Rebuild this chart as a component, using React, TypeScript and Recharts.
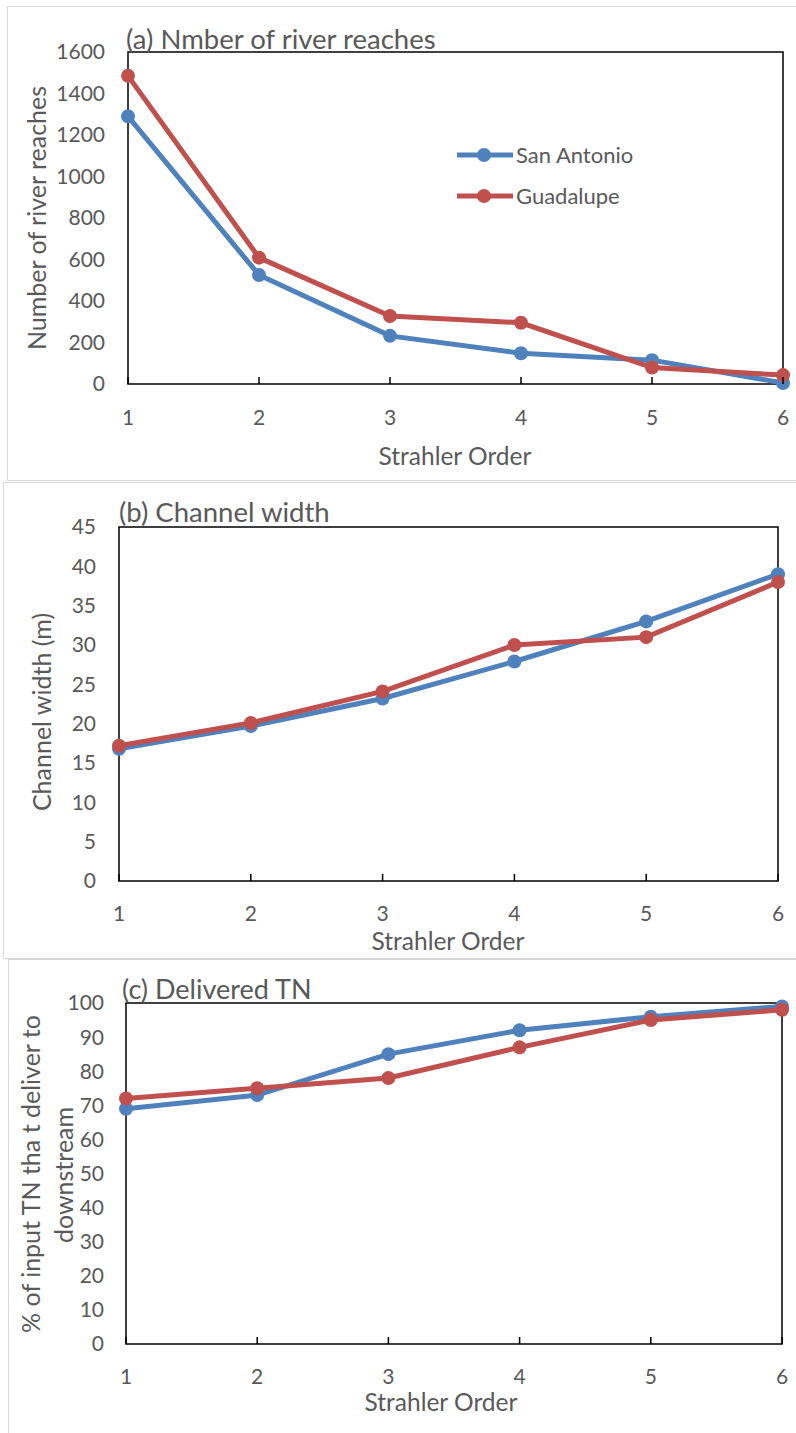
import React from 'react';
import {
  LineChart,
  Line,
  XAxis,
  YAxis,
  Legend,
  ReferenceArea,
} from 'recharts';

const ORDERS = [1, 2, 3, 4, 5, 6];
const SERIES_NAMES = ['San Antonio', 'Guadalupe'];

// (a) number of river reaches
const reachesSanAntonio = [1290, 525, 232, 148, 115, 5];
const reachesGuadalupe = [1485, 609, 328, 295, 79, 43];
const reachTicks = [0, 200, 400, 600, 800, 1000, 1200, 1400, 1600];

// (b) channel width (m)
const widthSanAntonio = [16.8, 19.7, 23.2, 27.9, 33, 39];
const widthGuadalupe = [17.2, 20.1, 24.1, 30, 31, 38];
const widthTicks = [0, 5, 10, 15, 20, 25, 30, 35, 40, 45];

// (c) delivered TN (%)
const deliveredSanAntonio = [69, 73, 85, 92, 96, 99];
const deliveredGuadalupe = [72, 75, 78, 87, 95, 98];
const deliveredTicks = [0, 10, 20, 30, 40, 50, 60, 70, 80, 90, 100];

const BLUE = '#4f81bd';
const RED = '#c0504d';
const TEXT = '#595959';
const FONT = 'Lato, "Open Sans", sans-serif';

const buildRows = (sa: number[], gu: number[]) =>
  ORDERS.map((order, i) => ({ order, sa: sa[i], gu: gu[i] }));

// inside tick mark + label, like Excel
const XTick = (props: any) => {
  const { x, y, payload, labelOffset } = props;
  return (
    <g>
      <line x1={x} x2={x} y1={y} y2={y - 7} stroke="#000" strokeWidth={1.5} />
      <text
        x={x}
        y={y + labelOffset}
        textAnchor="middle"
        dominantBaseline="central"
        fontSize={21}
        fill={TEXT}
        fontFamily={FONT}
      >
        {payload.value}
      </text>
    </g>
  );
};

const renderLegend = (props: any) => {
  const items = [...(props.payload || [])].sort(
    (a: any, b: any) => SERIES_NAMES.indexOf(a.value) - SERIES_NAMES.indexOf(b.value)
  );
  return (
    <div style={{ fontFamily: FONT, fontSize: 22, color: TEXT }}>
      {items.map((entry: any) => (
        <div key={entry.value} style={{ display: 'flex', alignItems: 'center', height: 41 }}>
          <svg width={56} height={20} style={{ display: 'block' }}>
            <line x1={0} x2={56} y1={10} y2={10} stroke={entry.color} strokeWidth={5} />
            <circle cx={27} cy={10} r={7} fill={entry.color} />
          </svg>
          <span style={{ marginLeft: 3 }}>{entry.value}</span>
        </div>
      ))}
    </div>
  );
};

interface PanelProps {
  top: number;
  height: number;
  rows: { order: number; sa: number; gu: number }[];
  yTicks: number[];
  margin: { top: number; right: number; bottom: number; left: number };
  labelGap: number;
  yTickMargin: number;
  showLegend?: boolean;
}

const Panel = ({ top, height, rows, yTicks, margin, labelGap, yTickMargin, showLegend }: PanelProps) => {
  const yMax = yTicks[yTicks.length - 1];
  return (
    <div style={{ position: 'absolute', left: 0, top, width: 796, height }}>
      <LineChart width={796} height={height} data={rows} margin={margin}>
        <ReferenceArea
          x1={1}
          x2={6}
          y1={0}
          y2={yMax}
          fill="none"
          stroke="#000"
          strokeWidth={1.5}
          ifOverflow="visible"
        />
        <XAxis
          dataKey="order"
          type="number"
          domain={[1, 6]}
          ticks={ORDERS}
          interval={0}
          axisLine={false}
          tickLine={false}
          tickSize={0}
          tickMargin={0}
          height={40}
          tick={<XTick labelOffset={labelGap} />}
        />
        <YAxis
          type="number"
          domain={[0, yMax]}
          ticks={yTicks}
          interval={0}
          width={100}
          axisLine={false}
          tickLine={false}
          tickSize={0}
          tickMargin={yTickMargin}
          tick={{ fontSize: 21, fill: TEXT, fontFamily: FONT }}
        />
        {showLegend && (
          <Legend
            layout="vertical"
            verticalAlign="middle"
            align="center"
            content={renderLegend}
            wrapperStyle={{ top: 134, left: 457, width: 220 }}
          />
        )}
        <Line
          name={SERIES_NAMES[0]}
          dataKey="sa"
          type="linear"
          stroke={BLUE}
          strokeWidth={5}
          dot={{ r: 7, fill: BLUE, stroke: 'none' }}
          activeDot={false}
          isAnimationActive={false}
        />
        <Line
          name={SERIES_NAMES[1]}
          dataKey="gu"
          type="linear"
          stroke={RED}
          strokeWidth={5}
          dot={{ r: 7, fill: RED, stroke: 'none' }}
          activeDot={false}
          isAnimationActive={false}
        />
      </LineChart>
    </div>
  );
};

export default function App() {
  const textStyle = { fontFamily: FONT, fill: TEXT } as const;
  return (
    <div
      style={{
        position: 'absolute',
        left: 0,
        top: 0,
        width: 796,
        height: 1433,
        background: '#fff',
        overflow: 'hidden',
      }}
    >
      {/* chart area frames */}
      <div style={{ position: 'absolute', left: 7, top: 6, width: 800, height: 473, border: '1.5px solid #d9d9d9' }} />
      <div style={{ position: 'absolute', left: 3, top: 482, width: 800, height: 475, border: '1.5px solid #d9d9d9' }} />
      <div style={{ position: 'absolute', left: 8, top: 959, width: 800, height: 500, border: '1.5px solid #d9d9d9' }} />

      <Panel
        top={0}
        height={480}
        rows={buildRows(reachesSanAntonio, reachesGuadalupe)}
        yTicks={reachTicks}
        margin={{ top: 52, right: 13, bottom: 56, left: 28 }}
        labelGap={32}
        yTickMargin={23}
        showLegend
      />
      <Panel
        top={480}
        height={480}
        rows={buildRows(widthSanAntonio, widthGuadalupe)}
        yTicks={widthTicks}
        margin={{ top: 47, right: 18, bottom: 39, left: 19 }}
        labelGap={31}
        yTickMargin={23}
      />
      <Panel
        top={960}
        height={473}
        rows={buildRows(deliveredSanAntonio, deliveredGuadalupe)}
        yTicks={deliveredTicks}
        margin={{ top: 43, right: 14, bottom: 49, left: 26 }}
        labelGap={31}
        yTickMargin={22}
      />

      {/* titles and axis titles */}
      <svg
        width={796}
        height={1433}
        style={{ position: 'absolute', left: 0, top: 0, pointerEvents: 'none' }}
      >
        <text x={126} y={49} fontSize={27.5} {...textStyle}>(a) Nmber of river reaches</text>
        <text
          x={36}
          y={218}
          fontSize={25}
          textAnchor="middle"
          dominantBaseline="central"
          transform="rotate(-90 36 218)"
          {...textStyle}
        >
          Number of river reaches
        </text>
        <text x={455} y={455} fontSize={24.5} textAnchor="middle" dominantBaseline="central" {...textStyle}>
          Strahler Order
        </text>

        <text x={119} y={522} fontSize={27.5} {...textStyle}>(b) Channel width</text>
        <text
          x={41}
          y={712}
          fontSize={25}
          textAnchor="middle"
          dominantBaseline="central"
          transform="rotate(-90 41 712)"
          {...textStyle}
        >
          Channel width (m)
        </text>
        <text x={448} y={940} fontSize={24.5} textAnchor="middle" dominantBaseline="central" {...textStyle}>
          Strahler Order
        </text>

        <text x={122} y={999} fontSize={27} {...textStyle}>(c) Delivered TN</text>
        <text
          x={30}
          y={1174}
          fontSize={25}
          textAnchor="middle"
          dominantBaseline="central"
          transform="rotate(-90 30 1174)"
          {...textStyle}
        >
          % of input TN tha t deliver to
        </text>
        <text
          x={63}
          y={1175}
          fontSize={25}
          textAnchor="middle"
          dominantBaseline="central"
          transform="rotate(-90 63 1175)"
          {...textStyle}
        >
          downstream
        </text>
        <text x={441} y={1401} fontSize={24.5} textAnchor="middle" dominantBaseline="central" {...textStyle}>
          Strahler Order
        </text>
      </svg>
    </div>
  );
}
